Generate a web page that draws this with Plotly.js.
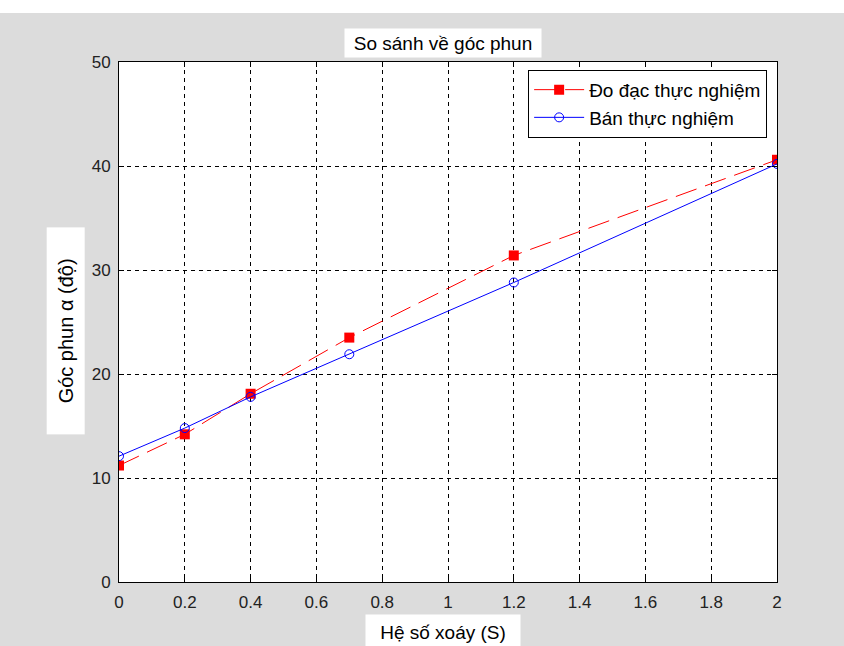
<!DOCTYPE html>
<html>
<head>
<meta charset="utf-8">
<script src="https://cdn.plot.ly/plotly-3.0.1.min.js"></script>
<style>html,body{margin:0;padding:0;background:#dcdcdc;}#chart{width:844px;height:646px;}</style>
</head>
<body>
<div id="chart"></div>
<script>
const xValues = [0, 0.2, 0.4, 0.7, 1.2, 2];
const measured = [11.2, 14.2, 18.1, 23.5, 31.4, 40.6];
const semiEmpirical = [12.1, 14.8, 17.8, 21.9, 28.8, 40.2];
const seriesNames = ["Đo đạc thực nghiệm", "Bán thực nghiệm"];
const xTicks = [0, 0.2, 0.4, 0.6, 0.8, 1, 1.2, 1.4, 1.6, 1.8, 2];
const yTicks = [0, 10, 20, 30, 40, 50];
const titleText = "So sánh về góc phun";
const xLabel = "Hệ số xoáy (S)";
const yLabel = "Góc phun α (độ)";

const font = "Liberation Sans, Arial, Helvetica, sans-serif";

const traces = [
  {
    x: xValues, y: measured, name: seriesNames[0], type: "scatter", mode: "lines+markers",
    line: {color: "#ff0000", width: 1, dash: "22px,9px"},
    marker: {symbol: "square", size: 10, color: "#ff0000"}
  },
  {
    x: xValues, y: semiEmpirical, name: seriesNames[1], type: "scatter", mode: "lines+markers",
    line: {color: "#0000ff", width: 1},
    marker: {symbol: "circle-open", size: 9, color: "#0000ff", line: {width: 1, color: "#0000ff"}}
  }
];

const axisCommon = {
  showline: true, mirror: "ticks", linecolor: "#000", linewidth: 1,
  ticks: "inside", ticklen: 5, tickcolor: "#000", tickwidth: 1,
  showgrid: true, gridcolor: "#000", gridwidth: 1, griddash: "4px,4px",
  zeroline: false, tickfont: {family: font, size: 17, color: "#222"}
};

const layout = {
  width: 844, height: 646,
  paper_bgcolor: "#dcdcdc", plot_bgcolor: "#ffffff",
  margin: {l: 119, r: 67, t: 62, b: 64},
  showlegend: true,
  legend: {
    x: 0.985, y: 0.985, xanchor: "right", yanchor: "top",
    bgcolor: "#ffffff", bordercolor: "#000", borderwidth: 1,
    font: {family: font, size: 19, color: "#000"},
    tracegroupgap: 0, itemwidth: 50
  },
  xaxis: Object.assign({}, axisCommon, {
    range: [0, 2], tickmode: "array", tickvals: xTicks,
    ticktext: xTicks.map(String), ticklabelstandoff: 5
  }),
  yaxis: Object.assign({}, axisCommon, {
    range: [0, 50], tickmode: "array", tickvals: yTicks,
    ticktext: yTicks.map(String), ticklabelstandoff: 4
  }),
  shapes: [
    {type: "rect", xref: "paper", yref: "paper", x0: -0.5, x1: 1.5, y0: 1.094, y1: 1.3,
     fillcolor: "#ffffff", line: {width: 0}, layer: "below"}
  ],
  annotations: [
    {text: titleText, xref: "paper", yref: "paper", x: 0.492, y: 1.0365,
     xanchor: "center", yanchor: "middle", showarrow: false, bgcolor: "#ffffff",
     width: 192, height: 24, borderpad: 2,
     font: {family: font, size: 19, color: "#000"}},
    {text: xLabel, xref: "paper", yref: "paper", x: 0.492, y: -0.097,
     xanchor: "center", yanchor: "middle", showarrow: false, bgcolor: "#ffffff",
     width: 150, height: 30, borderpad: 2,
     font: {family: font, size: 19, color: "#000"}},
    {text: yLabel, xref: "paper", yref: "paper", x: -0.0805, y: 0.483,
     xanchor: "center", yanchor: "middle", showarrow: false, textangle: -90, bgcolor: "#ffffff",
     width: 202, height: 33, borderpad: 2,
     font: {family: font, size: 20, color: "#000"}}
  ]
};

Plotly.newPlot("chart", traces, layout, {displayModeBar: false, staticPlot: true});
</script>
</body>
</html>
